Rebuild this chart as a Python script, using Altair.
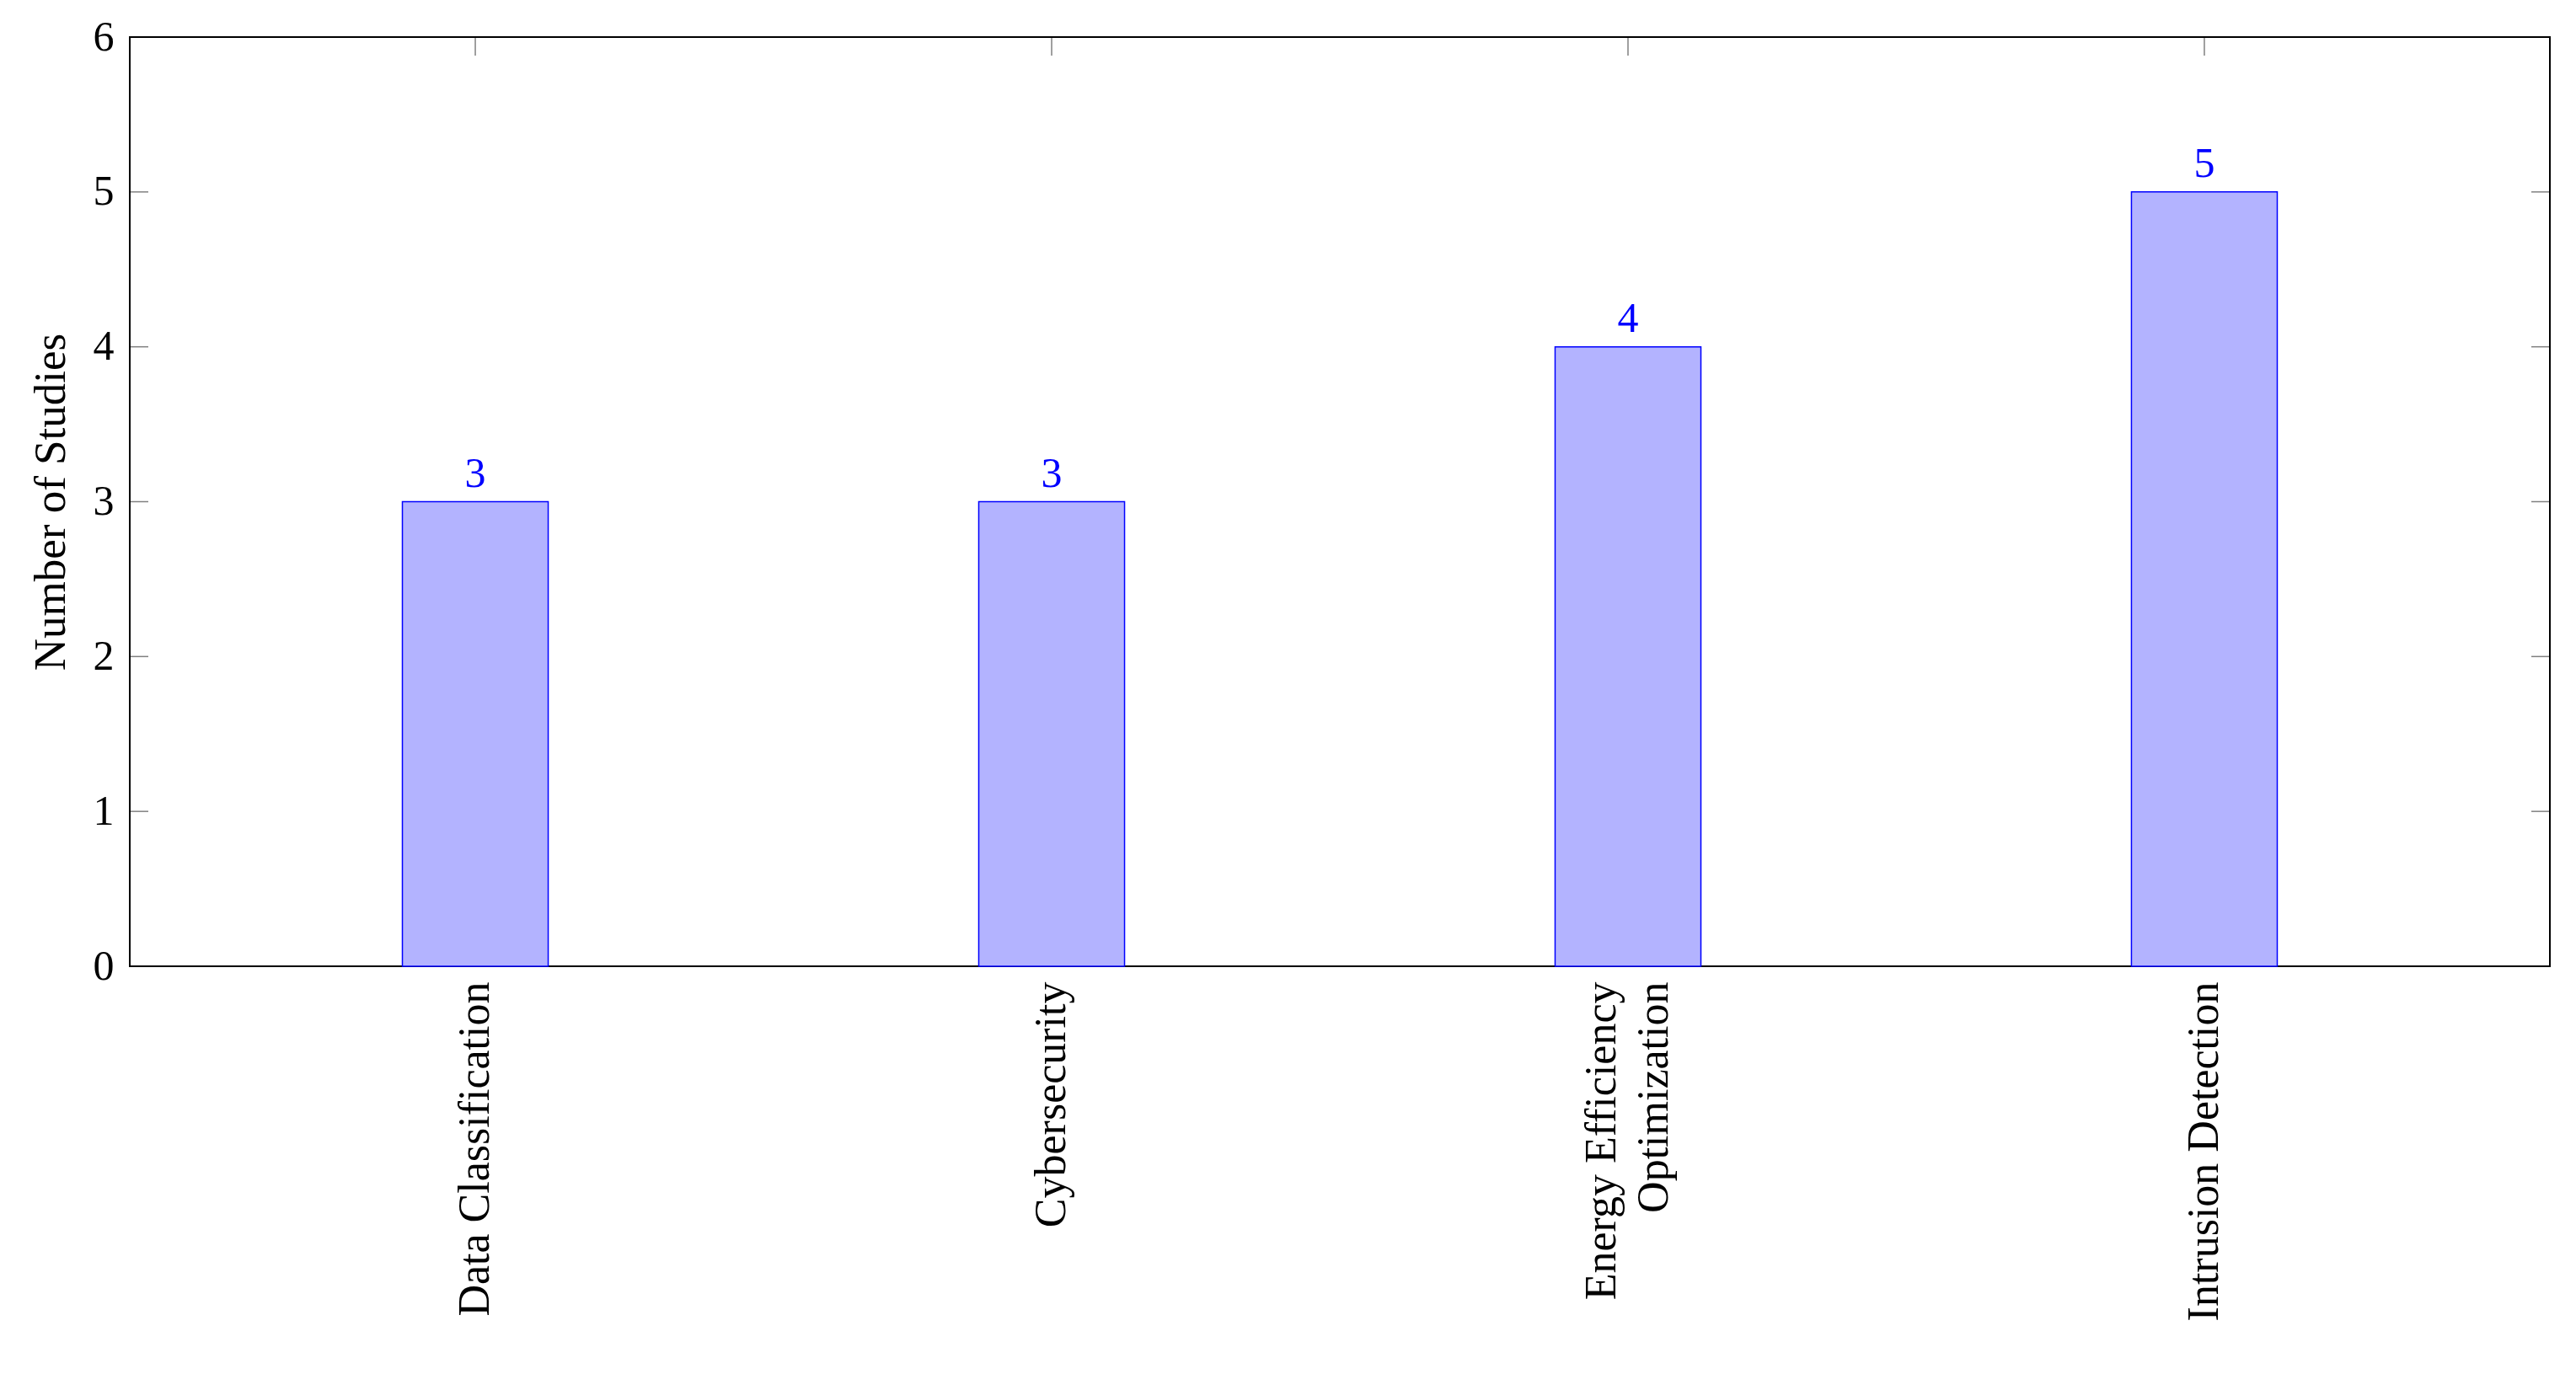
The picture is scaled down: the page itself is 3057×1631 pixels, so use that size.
import altair as alt
import pandas as pd

categories = ["Data Classification", "Cybersecurity",
              "Energy Efficiency\nOptimization" + "\u2002" * 2, "Intrusion Detection"]
values = [3, 3, 4, 5]
y_ticks = [0, 1, 2, 3, 4, 5, 6]
inner_ticks = [1, 2, 3, 4, 5]

W, H = 2872, 1103
FONT = "Liberation Serif"

bars_df = pd.DataFrame({"category": categories, "value": values})
yt_df = pd.DataFrame({"v": inner_ticks})
xt_df = pd.DataFrame({"category": categories})

x_scale = alt.Scale(domain=categories, paddingInner=0.747, paddingOuter=0.473)
y_scale = alt.Scale(domain=[0, 6], nice=False, zero=True)

x_enc = alt.X(
    "category:N", scale=x_scale, sort=categories, title=None,
    axis=alt.Axis(
        labelAngle=-90, labelFont=FONT, labelFontSize=52, labelColor="black",
        labelPadding=18, labelLineHeight=62, ticks=False, domain=False,
        labelExpr="split(datum.label, '\\n')", labelLimit=1000,
        labelOffset={"condition": {"test": "indexof(datum.label, '\\n') >= 0", "value": -31},
                     "value": 0},
    ),
)
y_enc = alt.Y(
    "value:Q", scale=y_scale, title="Number of Studies",
    axis=alt.Axis(
        values=y_ticks, format="d", labelFont=FONT, labelFontSize=50, labelColor="black",
        labelPadding=19, ticks=False, domain=False, grid=False,
        titleFont=FONT, titleFontSize=53, titleFontWeight="normal", titleColor="black",
        titleX=-94, titleY=H / 2, titleAngle=-90, titleAlign="center", titleBaseline="middle",
    ),
)

bars = alt.Chart(bars_df).mark_bar(
    fill="#b3b3ff", stroke="#0000ff", strokeWidth=1.5
).encode(x=x_enc, y=y_enc)

labels = alt.Chart(bars_df).mark_text(
    color="#0000ff", font=FONT, fontSize=50, baseline="alphabetic", dy=-18
).encode(
    x=alt.X("category:N", scale=x_scale, sort=categories),
    y=alt.Y("value:Q", scale=y_scale),
    text=alt.Text("value:Q"),
)

tick_style = dict(color="#808080", strokeWidth=1.5)
ytick_left = alt.Chart(yt_df).mark_rule(**tick_style).encode(
    y=alt.Y("v:Q", scale=y_scale), x=alt.value(1), x2=alt.value(22)
)
ytick_right = alt.Chart(yt_df).mark_rule(**tick_style).encode(
    y=alt.Y("v:Q", scale=y_scale), x=alt.value(W - 22), x2=alt.value(W - 1)
)
xtick_top = alt.Chart(xt_df).mark_rule(**tick_style).encode(
    x=alt.X("category:N", scale=x_scale, sort=categories),
    y=alt.value(1), y2=alt.value(22),
)

chart = alt.layer(bars, labels, ytick_left, ytick_right, xtick_top).properties(
    width=W, height=H,
    autosize=alt.AutoSizeParams(type="none"),
    padding={"left": 146, "top": 36, "right": 23, "bottom": 470},
    background="white",
).configure_view(stroke="black", strokeWidth=2)

chart.save("out.html", embed_options={"renderer": "svg", "actions": False})
